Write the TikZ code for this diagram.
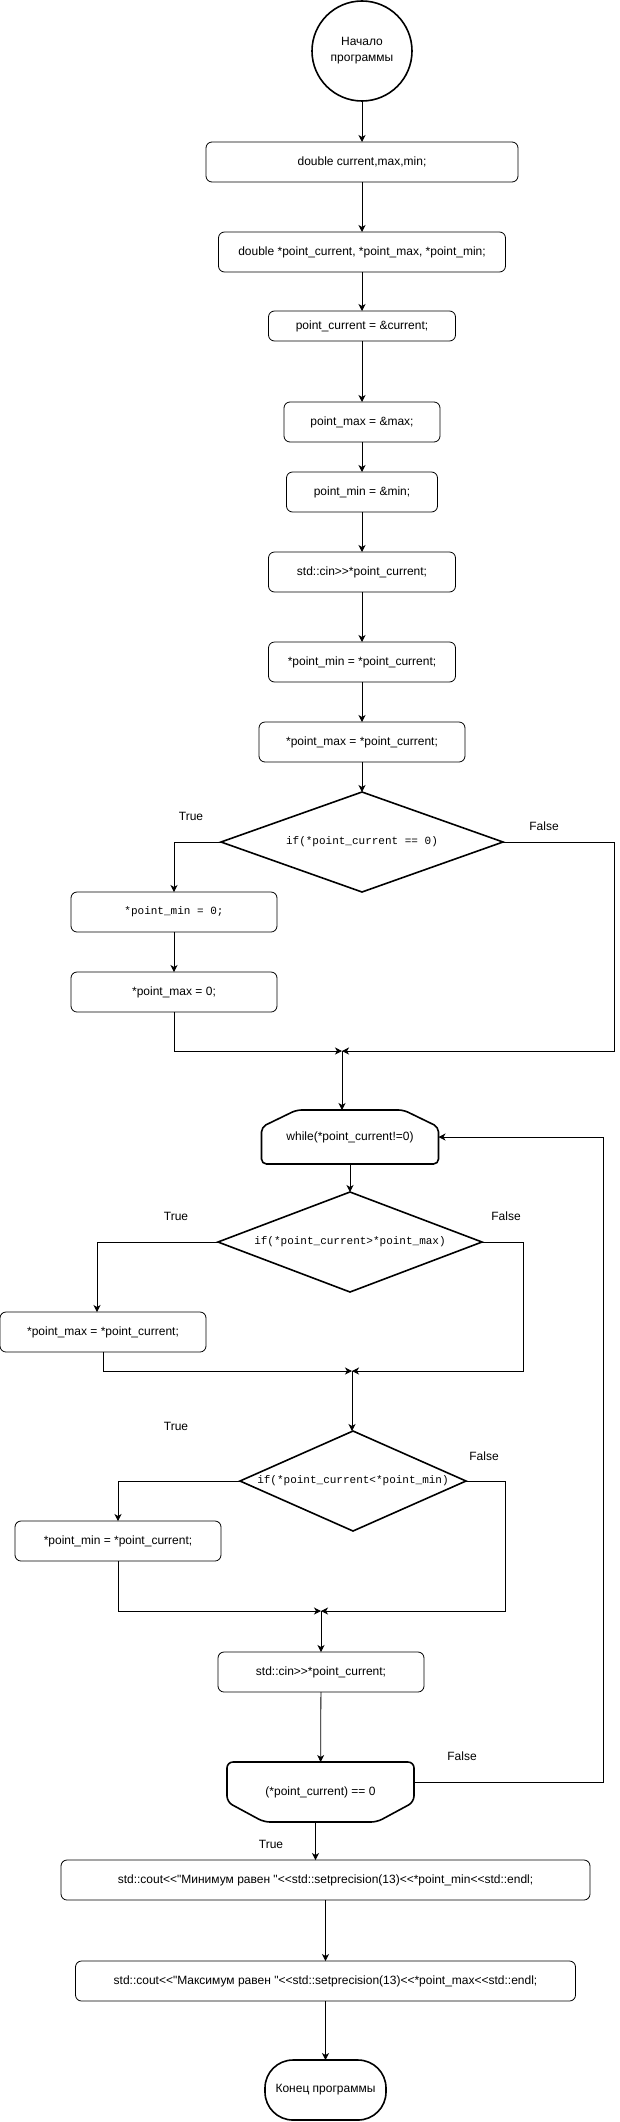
\documentclass[tikz,border=0pt]{standalone}
\usepackage{fontspec}
\setmainfont{Liberation Sans}[Ligatures=TeXOff]
\setmonofont{Liberation Mono}[Ligatures=TeXOff]
\usetikzlibrary{positioning,shapes.geometric,arrows.meta}

\begin{document}
\begin{tikzpicture}[x=1pt,y=-1pt,font=\fontsize{12}{16}\selectfont,
    every node/.append style={outer sep=0pt},
    >={Stealth[length=7pt,width=7pt,inset=2pt]},
    proc/.style={draw,rounded corners=6pt,line width=0.8pt,minimum height=40pt,inner sep=0pt},
    cond/.style={draw,diamond,line width=1.6pt,minimum height=100pt,inner sep=0pt,font=\ttfamily\fontsize{11}{13}\selectfont},
    loopbox/.style={minimum width=187pt,minimum height=60pt,inner sep=0pt},
    outline/.style={line width=1.6pt},
    flow/.style={->,line width=0.8pt},
    lbl/.style={inner sep=0pt}]
    \useasboundingbox (0,0) rectangle (619,2122);

    \node[draw,circle,line width=1.6pt,minimum size=100pt,inner sep=0pt,align=center] (start) at (362,51) {Начало\\программы};
    \node[proc,minimum width=312pt] (vars) [below=41pt of start] {double current,max,min;};
    \node[proc,minimum width=287pt] (ptrs) [below=50pt of vars] {double *point\_current, *point\_max, *point\_min;};
    \node[proc,minimum width=187pt,minimum height=30pt] (pcur) [below=39pt of ptrs] {point\_current = \&current;};
    \node[proc,minimum width=156pt] (pmax) [below=61pt of pcur] {point\_max = \&max;};
    \node[proc,minimum width=151pt] (pmin) [below=30pt of pmax] {point\_min = \&min;};
    \node[proc,minimum width=187pt] (cin1) [below=40pt of pmin] {std::cin>>*point\_current;};
    \node[proc,minimum width=187pt] (setmin) [below=50pt of cin1] {*point\_min = *point\_current;};
    \node[proc,minimum width=206pt] (setmax) [below=40pt of setmin] {*point\_max = *point\_current;};
    \node[cond,minimum width=282pt] (ifzero) [below=30pt of setmax] {\makebox[0pt]{if(*point\_current == 0)}};
    \node[proc,minimum width=206pt,font=\ttfamily\fontsize{11}{13}\selectfont] (zmin) [below=0pt of ifzero.south,xshift=-188pt] {*point\_min = 0;};
    \node[proc,minimum width=206pt] (zmax) [below=40pt of zmin] {*point\_max = 0;};
    \coordinate (join1) at (342,1051);

    \node[loopbox,minimum width=177pt,minimum height=54pt] (while) [below=59pt of join1,xshift=8pt] {while(*point\_current!=0)};
    \node[cond,minimum width=264pt] (ifmax) [below=28pt of while] {\makebox[0pt]{if(*point\_current>*point\_max)}};
    \node[proc,minimum width=206pt] (newmax) [below=20pt of ifmax.south,xshift=-247pt] {*point\_max = *point\_current;};
    \coordinate (join2) at (352,1371);
    \node[cond,minimum width=226pt] (ifmin) [below=60pt of join2,xshift=1pt] {\makebox[0pt]{if(*point\_current<*point\_min)}};
    \node[proc,minimum width=206pt] (newmin) [below=40pt of ifmin.west,xshift=-122pt] {*point\_min = *point\_current;};
    \coordinate (join3) at (321,1611);
    \node[proc,minimum width=206pt] (cin2) [below=41pt of join3] {std::cin>>*point\_current;};
    \node[loopbox] (until) [below=70pt of cin2,xshift=-0.5pt] {(*point\_current) == 0};

    \node[proc,minimum width=529pt] (outmin) [below=38pt of until,xshift=5pt] {std::cout<<"Минимум равен "<<std::setprecision(13)<<*point\_min<<std::endl;};
    \node[proc,minimum width=500pt] (outmax) [below=61pt of outmin] {std::cout<<"Максимум равен "<<std::setprecision(13)<<*point\_max<<std::endl;};
    \node[draw,rounded corners=28pt,line width=1.6pt,minimum width=121pt,minimum height=60pt,inner sep=0pt] (stop) [below=59pt of outmax] {Конец программы};

    % loop limit shapes
    \draw[outline,rounded corners=5pt] ([xshift=35pt]while.north west) -- ([xshift=-35pt]while.north east)
        -- ([yshift=-17pt]while.north east) -- (while.south east) -- (while.south west)
        -- ([yshift=-17pt]while.north west) -- cycle;
    \draw[outline,rounded corners=6pt] ([xshift=37pt]until.south west) -- ([yshift=20pt]until.south west)
        -- (until.north west) -- (until.north east) -- ([yshift=20pt]until.south east)
        -- ([xshift=-37pt]until.south east) -- cycle;

    \node[lbl] (true1) at (191,816) {True};
    \node[lbl] (false1) at (544,826) {False};
    \node[lbl] (true2) at (176,1216) {True};
    \node[lbl] (false2) at (506,1216) {False};
    \node[lbl] (true3) at (176,1426) {True};
    \node[lbl] (false3) at (484,1456) {False};
    \node[lbl] (false4) at (462,1756) {False};
    \node[lbl] (true4) at (271,1844) {True};

    \path[flow]
    (start)  edge (vars)
    (vars)   edge (ptrs)
    (ptrs)   edge (pcur)
    (pcur)   edge (pmax)
    (pmax)   edge (pmin)
    (pmin)   edge (cin1)
    (cin1)   edge (setmin)
    (setmin) edge (setmax)
    (setmax) edge (ifzero)
    (zmin)   edge (zmax)
    (while)  edge (ifmax)
    (join3)  edge (cin2)
    (cin2)   edge (until)
    (outmin) edge (outmax)
    (outmax) edge (stop)
    ;

    \draw[flow] (ifzero.west) -| (zmin.north);
    \draw[flow] (zmax.south) |- (join1);
    \draw[flow] (ifzero.east) -- ++(111pt,0) |- (join1);
    \draw[flow] (join1) -- (join1 |- while.north);

    \draw[flow] (ifmax.west) -| ([xshift=-6pt]newmax.north);
    \draw[flow] (newmax.south) |- (join2);
    \draw[flow] (ifmax.east) -- ++(41pt,0) |- (join2);
    \draw[flow] (join2) -- (join2 |- ifmin.north);

    \draw[flow] (ifmin.west) -| (newmin.north);
    \draw[flow] (newmin.south) |- (join3);
    \draw[flow] (ifmin.east) -- ++(39pt,0) |- (join3);

    \draw[flow] ([yshift=10pt]until.east) -- ++(189pt,0) |- (while.east);
    \draw[flow] ([xshift=-5pt]until.south) -- ([xshift=-5pt]until.south |- outmin.north);
\end{tikzpicture}
\end{document}
